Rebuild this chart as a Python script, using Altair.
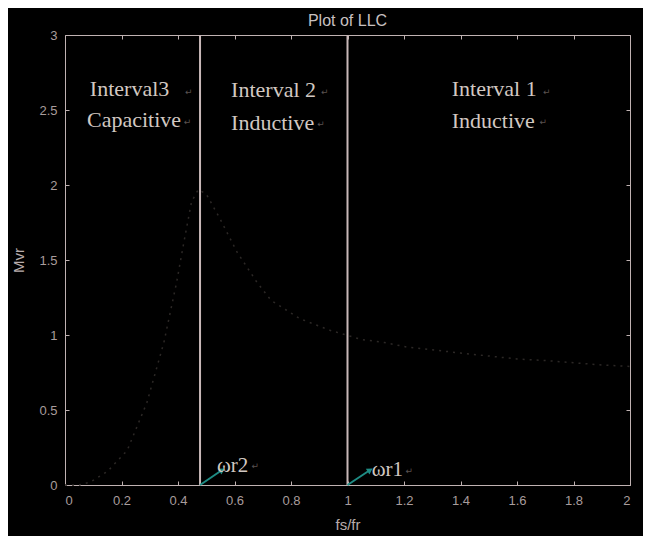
import altair as alt
import pandas as pd

# ---- data ----
curve_x = [0.0, 0.05, 0.09, 0.15, 0.22, 0.29, 0.35, 0.395, 0.42, 0.448, 0.472, 0.50, 0.55,
           0.61, 0.68, 0.73, 0.78, 0.83, 0.94, 1.05, 1.13, 1.21, 1.4, 1.6, 1.7, 1.9, 2.0]
curve_y = [0.0, 0.0, 0.02, 0.09, 0.23, 0.55, 0.95, 1.35, 1.61, 1.89, 1.97, 1.94, 1.77,
           1.55, 1.35, 1.23, 1.17, 1.11, 1.03, 0.97, 0.95, 0.92, 0.88, 0.84, 0.83, 0.80, 0.79]

vline_x = [0.478, 1.0]
vline_y0 = [0, 0]
vline_y1 = [3, 3]

label_text = ["Interval3", "Capacitive", "Interval 2", "Inductive", "Interval 1", "Inductive"]
label_x = [0.088, 0.078, 0.588, 0.588, 1.369, 1.369]
label_y = [2.593, 2.387, 2.587, 2.367, 2.593, 2.38]

mark_text = ["↵"] * 8
mark_x = [0.425, 0.42, 0.906, 0.893, 1.692, 1.68, 0.66, 1.205]
mark_y = [2.6, 2.4, 2.6, 2.39, 2.6, 2.4, 0.105, 0.075]

omega_text = ["ωr2", "ωr1"]
omega_x = [0.538, 1.086]
omega_y = [0.087, 0.06]

arrow_x0 = [0.478, 1.0]
arrow_y0 = [0.0, 0.0]
arrow_x1 = [0.556, 1.08]
arrow_y1 = [0.1, 0.1]

x_ticks = [0, 0.2, 0.4, 0.6, 0.8, 1.0, 1.2, 1.4, 1.6, 1.8, 2.0]
y_ticks = [0, 0.5, 1.0, 1.5, 2.0, 2.5, 3.0]

# ---- tables ----
curve_df = pd.DataFrame({"x": curve_x, "y": curve_y})
vline_df = pd.DataFrame({"x": vline_x, "y0": vline_y0, "y1": vline_y1})
label_df = pd.DataFrame({"t": label_text, "x": label_x, "y": label_y})
mark_df = pd.DataFrame({"t": mark_text, "x": mark_x, "y": mark_y})
omega_df = pd.DataFrame({"t": omega_text, "x": omega_x, "y": omega_y})
arrow_df = pd.DataFrame({"x0": arrow_x0, "y0": arrow_y0, "x1": arrow_x1, "y1": arrow_y1})

AX = "#c0b2b2"
LAB = "#a89c9c"
xs = alt.Scale(domain=[0, 2], nice=False, zero=False)
ys = alt.Scale(domain=[0, 3], nice=False, zero=False)

common_axis = dict(domain=False, grid=False, tickColor=AX, tickSize=4, offset=-4,
                   labelColor=LAB, labelFont="Liberation Sans", labelFontSize=13,
                   titleColor="#b8acac", titleFont="Liberation Sans", titleFontSize=15,
                   titleFontWeight="normal", format="~g")

curve = alt.Chart(curve_df).mark_line(color="#2c2826", strokeWidth=1.5, strokeDash=[2, 5]).encode(
    x=alt.X("x:Q", scale=xs,
            axis=alt.Axis(orient="bottom", values=x_ticks, title="fs/fr", labelPadding=9,
                          titlePadding=10, **common_axis)),
    y=alt.Y("y:Q", scale=ys,
            axis=alt.Axis(orient="left", values=y_ticks, title="Mvr", labelPadding=8,
                          titlePadding=12, **common_axis)),
)

vlines = alt.Chart(vline_df).mark_rule(color="#c8b8b8", strokeWidth=2).encode(
    x=alt.X("x:Q", scale=xs,
            axis=alt.Axis(orient="top", values=x_ticks, labels=False, title=None,
                          domain=False, grid=False, tickColor=AX, tickSize=4, offset=-4)),
    y=alt.Y("y0:Q", scale=ys,
            axis=alt.Axis(orient="right", values=y_ticks, labels=False, title=None,
                          domain=False, grid=False, tickColor=AX, tickSize=4, offset=-4)),
    y2="y1:Q",
)

labels = alt.Chart(label_df).mark_text(
    align="left", baseline="alphabetic", font="Liberation Serif", fontSize=22,
    color="#d2c8c2").encode(
    x=alt.X("x:Q", scale=xs, axis=None), y=alt.Y("y:Q", scale=ys, axis=None), text="t:N")

pmarks = alt.Chart(mark_df).mark_text(
    align="left", baseline="alphabetic", font="DejaVu Sans", fontSize=9,
    color="#5a5250").encode(
    x=alt.X("x:Q", scale=xs, axis=None), y=alt.Y("y:Q", scale=ys, axis=None), text="t:N")

omegas = alt.Chart(omega_df).mark_text(
    align="left", baseline="alphabetic", font="Liberation Serif", fontSize=21,
    color="#d2c8c2").encode(
    x=alt.X("x:Q", scale=xs, axis=None), y=alt.Y("y:Q", scale=ys, axis=None), text="t:N")

arrows = alt.Chart(arrow_df).mark_rule(color="#1e8c84", strokeWidth=2).encode(
    x=alt.X("x0:Q", scale=xs, axis=None), y=alt.Y("y0:Q", scale=ys, axis=None),
    x2="x1:Q", y2="y1:Q")

heads = alt.Chart(arrow_df).mark_point(
    shape="triangle-up", filled=True, color="#1e8c84", size=45, angle=57, opacity=1).encode(
    x=alt.X("x1:Q", scale=xs, axis=None), y=alt.Y("y1:Q", scale=ys, axis=None))

chart = alt.layer(curve, vlines, arrows, heads, labels, pmarks, omegas).resolve_axis(
    x="independent", y="independent"
).properties(
    width=565, height=450,
    autosize="none",
    padding={"left": 57, "top": 27, "right": 13, "bottom": 51},
    title=alt.TitleParams("Plot of LLC", font="Liberation Sans", fontSize=16,
                          fontWeight="normal", color="#c8c0c0", offset=0, anchor="middle"),
).configure(background="black").configure_view(stroke=AX, strokeWidth=1)

chart.save("out.html", embed_options={"renderer": "svg", "actions": False})
